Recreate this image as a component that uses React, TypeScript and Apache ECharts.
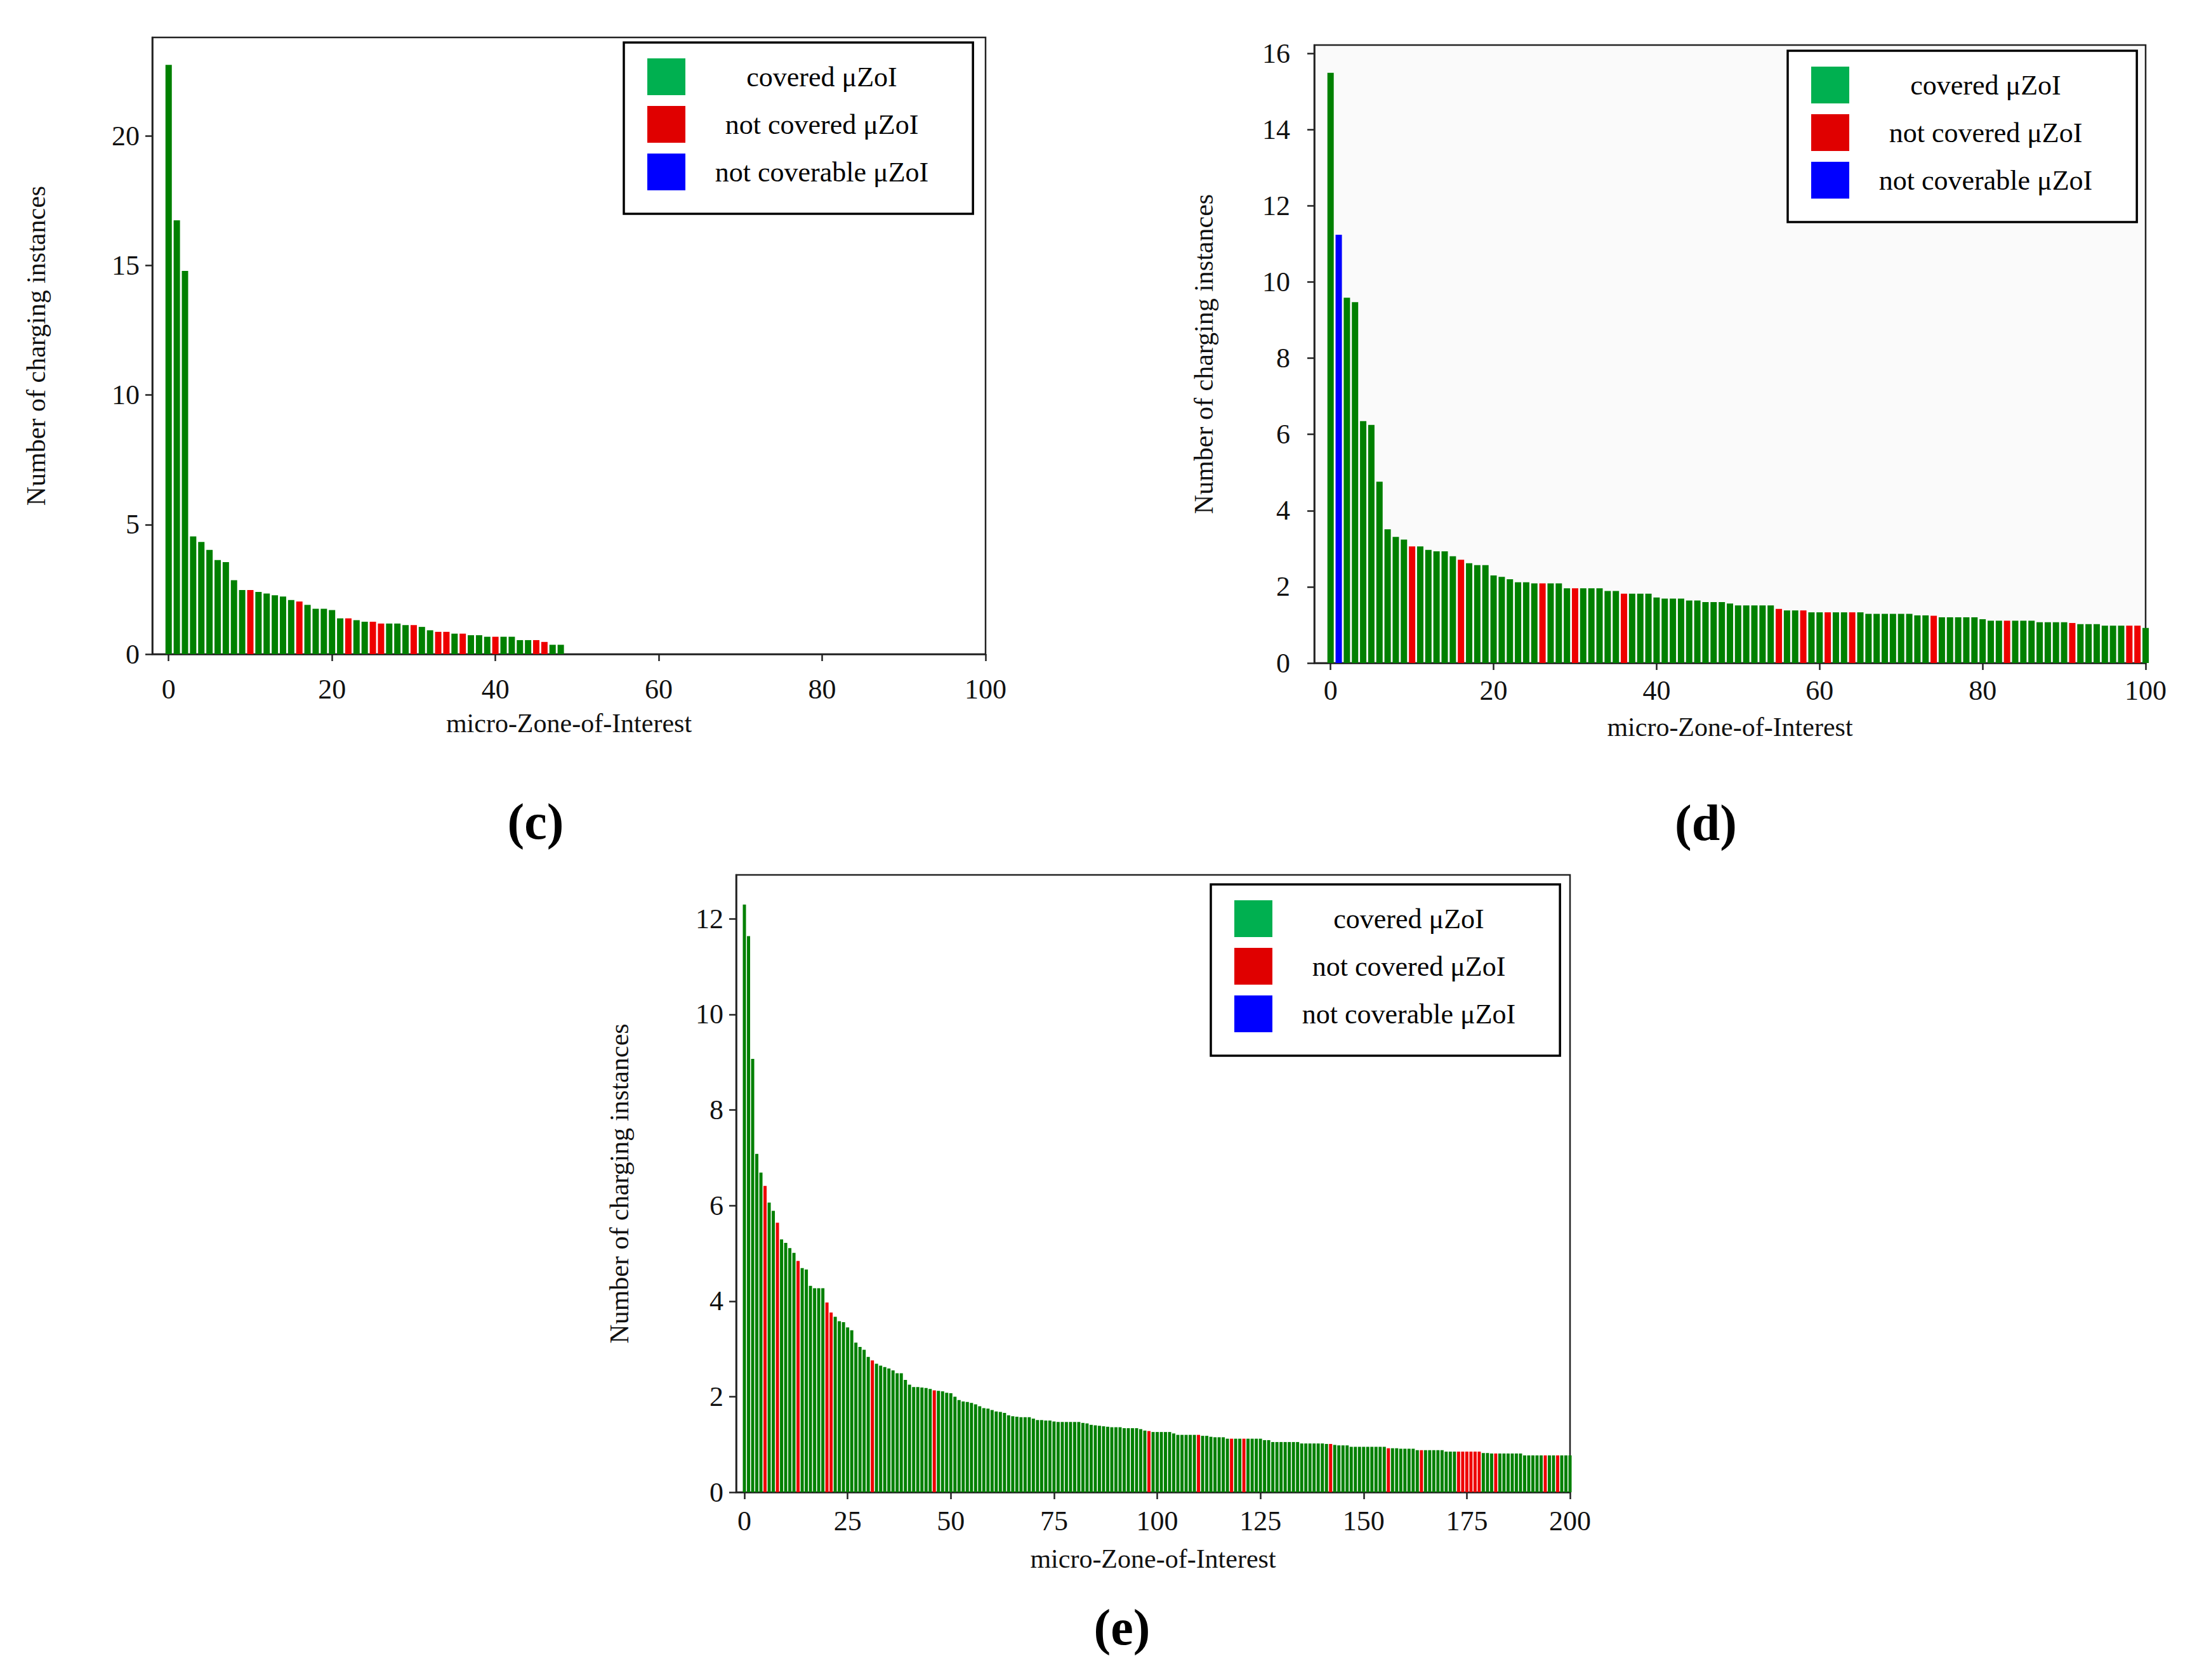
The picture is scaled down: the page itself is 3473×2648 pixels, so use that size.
import React, { useEffect, useRef } from "react";
import * as echarts from "echarts";

const SERIES_NAMES = ["covered μZoI", "not covered μZoI", "not coverable μZoI"];
const BAR_COLORS = ["#008000", "#ee0000", "#0000ff"];
const LEGEND_COLORS = ["#00b050", "#e00000", "#0000ff"];

// Panel (c)
const cValues = [
  22.74, 16.74, 14.79, 4.54, 4.33, 4.02, 3.63, 3.55, 2.85, 2.47,
  2.47, 2.40, 2.34, 2.27, 2.22, 2.09, 2.03, 1.90, 1.75, 1.75,
  1.70, 1.38, 1.38, 1.31, 1.25, 1.25, 1.18, 1.18, 1.18, 1.12,
  1.12, 1.05, 0.92, 0.86, 0.86, 0.79, 0.79, 0.73, 0.73, 0.67,
  0.67, 0.67, 0.67, 0.54, 0.54, 0.54, 0.47, 0.36, 0.36,
];
const cNotCovered = [10, 16, 22, 25, 26, 30, 33, 34, 36, 40, 45, 46];
const cNotCoverable: number[] = [];
const cXTicks = [0, 20, 40, 60, 80, 100];
const cYTicks = [0, 5, 10, 15, 20];

// Panel (d)
const dValues = [
  15.49, 11.24, 9.59, 9.47, 6.35, 6.25, 4.76, 3.51, 3.31, 3.24,
  3.06, 3.06, 2.97, 2.93, 2.93, 2.80, 2.71, 2.62, 2.57, 2.57,
  2.30, 2.26, 2.20, 2.12, 2.12, 2.09, 2.09, 2.09, 2.09, 1.96,
  1.96, 1.96, 1.96, 1.96, 1.89, 1.89, 1.82, 1.82, 1.82, 1.82,
  1.72, 1.69, 1.69, 1.69, 1.64, 1.64, 1.60, 1.60, 1.60, 1.56,
  1.51, 1.51, 1.51, 1.51, 1.51, 1.42, 1.38, 1.38, 1.38, 1.33,
  1.33, 1.33, 1.33, 1.33, 1.33, 1.33, 1.29, 1.29, 1.29, 1.29,
  1.29, 1.29, 1.25, 1.25, 1.24, 1.20, 1.20, 1.20, 1.20, 1.20,
  1.15, 1.11, 1.11, 1.11, 1.11, 1.11, 1.11, 1.07, 1.07, 1.07,
  1.07, 1.05, 1.02, 1.02, 1.02, 0.98, 0.98, 0.98, 0.98, 0.98,
  0.92,
];
const dNotCovered = [10, 16, 26, 30, 36, 55, 58, 61, 64, 74, 83, 91, 98, 99];
const dNotCoverable = [1];
const dXTicks = [0, 20, 40, 60, 80, 100];
const dYTicks = [0, 2, 4, 6, 8, 10, 12, 14, 16];

// Panel (e)
const eValues = [
  12.30, 11.64, 9.07, 7.08, 6.69, 6.41, 6.06, 5.89, 5.64, 5.29,
  5.22, 5.11, 5.01, 4.84, 4.69, 4.66, 4.32, 4.27, 4.27, 4.27,
  3.97, 3.76, 3.67, 3.58, 3.56, 3.45, 3.39, 3.13, 3.04, 2.98,
  2.83, 2.76, 2.69, 2.65, 2.62, 2.59, 2.55, 2.49, 2.49, 2.35,
  2.25, 2.20, 2.20, 2.19, 2.18, 2.16, 2.13, 2.12, 2.11, 2.08,
  2.07, 2.00, 1.93, 1.90, 1.89, 1.87, 1.84, 1.80, 1.76, 1.75,
  1.72, 1.69, 1.68, 1.66, 1.61, 1.59, 1.58, 1.57, 1.57, 1.57,
  1.54, 1.51, 1.51, 1.50, 1.50, 1.48, 1.47, 1.47, 1.47, 1.47,
  1.47, 1.47, 1.45, 1.44, 1.41, 1.40, 1.39, 1.38, 1.37, 1.36,
  1.36, 1.36, 1.34, 1.34, 1.34, 1.34, 1.32, 1.29, 1.28, 1.26,
  1.26, 1.26, 1.26, 1.26, 1.23, 1.20, 1.20, 1.20, 1.20, 1.20,
  1.20, 1.18, 1.18, 1.16, 1.15, 1.15, 1.15, 1.12, 1.12, 1.12,
  1.12, 1.12, 1.12, 1.12, 1.12, 1.12, 1.09, 1.09, 1.05, 1.05,
  1.05, 1.05, 1.05, 1.05, 1.05, 1.02, 1.02, 1.02, 1.02, 1.02,
  1.02, 1.01, 1.01, 0.99, 0.98, 0.98, 0.98, 0.95, 0.95, 0.95,
  0.95, 0.95, 0.95, 0.95, 0.95, 0.95, 0.92, 0.92, 0.92, 0.91,
  0.91, 0.91, 0.91, 0.88, 0.88, 0.88, 0.88, 0.88, 0.88, 0.88,
  0.85, 0.85, 0.85, 0.85, 0.85, 0.85, 0.85, 0.85, 0.85, 0.82,
  0.82, 0.81, 0.81, 0.81, 0.81, 0.81, 0.81, 0.81, 0.81, 0.77,
  0.77, 0.77, 0.77, 0.77, 0.77, 0.77, 0.77, 0.77, 0.77, 0.77,
  0.77,
];
const eNotCovered = [5, 8, 13, 20, 21, 31, 46, 98, 110, 118, 121, 142, 156, 164, 173, 174, 175, 176, 177, 178, 182, 194, 197];
const eNotCoverable: number[] = [];
const eXTicks = [0, 25, 50, 75, 100, 125, 150, 175, 200];
const eYTicks = [0, 2, 4, 6, 8, 10, 12];

const FONT = "'Liberation Serif', 'DejaVu Serif', serif";

const panels = [
  {
    values: cValues, notCovered: cNotCovered, notCoverable: cNotCoverable,
    xTicks: cXTicks, yTicks: cYTicks, xMax: 100, yMax: 23.8,
    grid: { left: 240, top: 59, width: 1313, height: 972 }, bg: "#ffffff",
    legend: { left: 983, top: 67 }, caption: { text: "(c)", x: 844, y: 1295 },
    yNameGap: 162, xNameGap: 88, xLabelMargin: 33, yLabelMargin: 20, barWidth: 10,
  },
  {
    values: dValues, notCovered: dNotCovered, notCoverable: dNotCoverable,
    xTicks: dXTicks, yTicks: dYTicks, xMax: 100, yMax: 16.22,
    grid: { left: 2071, top: 71, width: 1310, height: 974 }, bg: "#fafafa",
    legend: { left: 2817, top: 80 }, caption: { text: "(d)", x: 2688, y: 1297 },
    yNameGap: 153, xNameGap: 80, xLabelMargin: 21, yLabelMargin: 38, barWidth: 10,
  },
  {
    values: eValues, notCovered: eNotCovered, notCoverable: eNotCoverable,
    xTicks: eXTicks, yTicks: eYTicks, xMax: 200, yMax: 12.92,
    grid: { left: 1160, top: 1379, width: 1314, height: 973 }, bg: "#ffffff",
    legend: { left: 1908, top: 1394 }, caption: { text: "(e)", x: 1768, y: 2565 },
    yNameGap: 163, xNameGap: 84, xLabelMargin: 23, yLabelMargin: 20, barWidth: 5,
  },
];

function splitData(values: number[], notCovered: number[], notCoverable: number[]) {
  const groups: number[][][] = [[], [], []];
  values.forEach((v, i) => {
    const k = notCoverable.includes(i) ? 2 : notCovered.includes(i) ? 1 : 0;
    groups[k].push([i, v]);
  });
  return groups;
}

function buildOption() {
  const grid: any[] = [];
  const xAxis: any[] = [];
  const yAxis: any[] = [];
  const series: any[] = [];
  const legend: any[] = [];
  const graphic: any[] = [];
  const axisColor = "#222";

  panels.forEach((p, k) => {
    grid.push({
      left: p.grid.left, top: p.grid.top, width: p.grid.width, height: p.grid.height,
      show: true, borderColor: axisColor, borderWidth: 2.5, backgroundColor: p.bg,
      containLabel: false,
    });
    xAxis.push({
      type: "value", gridIndex: k, min: -2, max: p.xMax,
      axisLine: { show: true, onZero: false, lineStyle: { color: axisColor, width: 2.5 } },
      axisTick: { show: true, length: 11, lineStyle: { color: axisColor, width: 2.5 }, customValues: p.xTicks },
      axisLabel: { customValues: p.xTicks, margin: p.xLabelMargin, fontSize: 44, fontFamily: FONT, color: "#111" },
      splitLine: { show: false },
      name: "micro-Zone-of-Interest", nameLocation: "middle", nameGap: p.xNameGap,
      nameTextStyle: { fontSize: 42, fontFamily: FONT, color: "#111" },
    });
    yAxis.push({
      type: "value", gridIndex: k, min: 0, max: p.yMax,
      axisLine: { show: true, onZero: false, lineStyle: { color: axisColor, width: 2.5 } },
      axisTick: { show: true, length: 11, lineStyle: { color: axisColor, width: 2.5 }, customValues: p.yTicks },
      axisLabel: { customValues: p.yTicks, margin: p.yLabelMargin, fontSize: 44, fontFamily: FONT, color: "#111" },
      splitLine: { show: false },
      name: "Number of charging instances", nameLocation: "middle", nameGap: p.yNameGap, nameRotate: 90,
      nameTextStyle: { fontSize: 42, fontFamily: FONT, color: "#111" },
    });
    const groups = splitData(p.values, p.notCovered, p.notCoverable);
    groups.forEach((data, j) => {
      series.push({
        type: "bar", name: SERIES_NAMES[j], xAxisIndex: k, yAxisIndex: k,
        data, barWidth: p.barWidth, barGap: "-100%", silent: true,
        itemStyle: { color: BAR_COLORS[j] },
      });
    });
    legend.push({
      orient: "vertical", left: p.legend.left, top: p.legend.top,
      padding: [25, 70, 37, 37], itemGap: 17, itemWidth: 60, itemHeight: 58,
      backgroundColor: "#ffffff", borderColor: "#000", borderWidth: 3.5,
      icon: "rect", selectedMode: false,
      data: SERIES_NAMES.map((n, j) => ({ name: n, itemStyle: { color: LEGEND_COLORS[j] } })),
      formatter: (name: string) => `{t|${name}}`,
      textStyle: {
        fontSize: 44, fontFamily: FONT, color: "#000",
        rich: { t: { width: 420, align: "center", fontSize: 44, fontFamily: FONT, color: "#000" } },
      },
    });
    graphic.push({
      type: "text", x: p.caption.x, y: p.caption.y, silent: true,
      style: {
        text: p.caption.text, fontSize: 80, fontWeight: "bold", fontFamily: FONT,
        fill: "#000", align: "center", verticalAlign: "middle",
      },
    });
  });

  return {
    animation: false,
    backgroundColor: "#ffffff",
    grid, xAxis, yAxis, series, legend, graphic,
  };
}

export default function App() {
  const ref = useRef<HTMLDivElement>(null);
  useEffect(() => {
    if (!ref.current) return;
    const chart = echarts.init(ref.current, null, { renderer: "svg" });
    chart.setOption(buildOption() as any);
    return () => chart.dispose();
  }, []);
  return (
    <div
      ref={ref}
      style={{ position: "fixed", left: 0, top: 0, width: 3473, height: 2648, background: "#fff" }}
    />
  );
}
